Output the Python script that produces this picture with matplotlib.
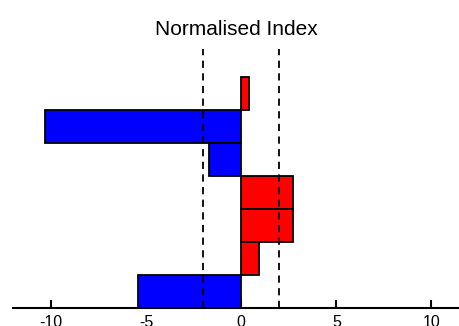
import matplotlib
matplotlib.use("Agg")
import matplotlib.pyplot as plt

positions = [6, 5, 4, 3, 2, 1, 0]
values = [0.42, -10.3, -1.68, 2.74, 2.74, 0.95, -5.42]
colors = ["red" if v > 0 else "blue" for v in values]
thresholds = [-2, 2]
xticks = [-10, -5, 0, 5, 10]

plt.rcParams['font.family'] = ['Liberation Sans', 'DejaVu Sans']
fig = plt.figure(figsize=(4.6, 3.26), dpi=100)
ax = fig.add_axes([13/460, 18/326, 1 - 13/460, (308-49)/326])

ax.barh(positions, values, height=1.0, color=colors, edgecolor="black", linewidth=1.3, zorder=2)
for t in thresholds:
    ax.axvline(t, color="black", linestyle=(0, (4, 3)), linewidth=1.3, zorder=3)

ax.set_xlim(-12, 11.5)
ax.set_ylim(-0.5, 7.35)
ax.set_xticks(xticks)
ax.set_xticklabels([str(x) for x in xticks])
ax.set_yticks([])
for s in ["top", "right", "left"]:
    ax.spines[s].set_visible(False)
ax.spines["bottom"].set_linewidth(1.5)
ax.tick_params(axis="x", direction="in", length=6, width=1.5, labelsize=11.5, pad=5)
ax.set_title("Normalised Index", fontsize=15, pad=10)

fig.savefig("out.png", dpi=100)
